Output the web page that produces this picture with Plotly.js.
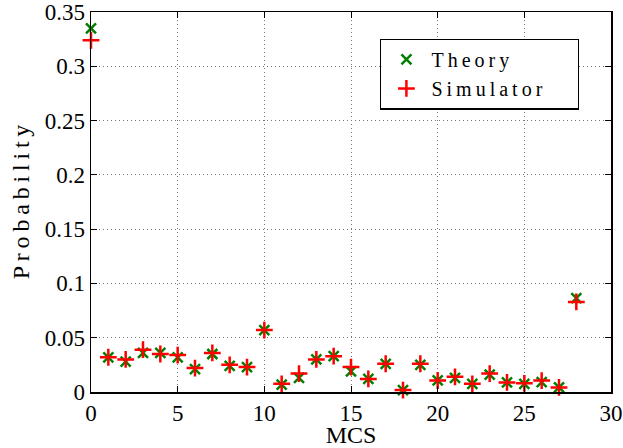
<!DOCTYPE html>
<html><head><meta charset="utf-8">
<script src="https://cdn.plot.ly/plotly-3.0.1.min.js"></script>
<style>html,body{margin:0;padding:0;background:#fff}</style>
</head><body>
<div id="chart" style="width:623px;height:448px"></div>
<script>
const mcs = [0,1,2,3,4,5,6,7,8,9,10,11,12,13,14,15,16,17,18,19,20,21,22,23,24,25,26,27,28];
const theory = [0.335,0.032,0.028,0.036,0.036,0.032,0.021,0.035,0.024,0.023,0.057,0.0067,0.013,0.030,0.033,0.019,0.012,0.026,0.0018,0.025,0.0106,0.013,0.0075,0.016,0.0088,0.0075,0.009,0.0042,0.0865];
const simulator = [0.324,0.032,0.030,0.039,0.035,0.034,0.022,0.036,0.025,0.023,0.057,0.0075,0.017,0.030,0.033,0.023,0.012,0.026,0.0018,0.026,0.0106,0.014,0.0075,0.017,0.0088,0.008,0.0105,0.0042,0.083];
const xTicks = [0,5,10,15,20,25,30];
const yTicks = [0,0.05,0.1,0.15,0.2,0.25,0.3,0.35];
const yTickText = ['0','0.05','0.1','0.15','0.2','0.25','0.3','0.35'];

const sp = s => s.split('').join('\u2009');
const pad = '\u00a0\u00a0\u00a0\u00a0\u00a0\u00a0';
const FAM = 'Liberation Serif';
const traces = [
  {x: mcs, y: theory, name: sp('Theory') + pad, type: 'scatter', mode: 'markers', cliponaxis: false,
   marker: {symbol: 'x-thin', size: 10, color: '#008000', line: {color: '#008000', width: 2.5}}},
  {x: mcs, y: simulator, name: sp('Simulator') + pad, type: 'scatter', mode: 'markers', cliponaxis: false,
   marker: {symbol: 'cross-thin', size: 12, color: '#ff0000', line: {color: '#ff0000', width: 2.5}}}
];
const axisBase = {
  tickmode: 'array', ticklabeloverflow: 'allow',
  tickfont: {family: FAM, size: 23, color: '#000'},
  showline: true, linecolor: '#000', linewidth: 1.5, mirror: 'ticks',
  ticks: 'inside', ticklen: 6, tickcolor: '#000', tickwidth: 1,
  showgrid: true, gridcolor: '#777', griddash: '1px,3px', gridwidth: 1, zeroline: false
};
const layout = {
  width: 623, height: 448,
  margin: {l: 91, r: 12, t: 12, b: 56},
  paper_bgcolor: '#fff', plot_bgcolor: '#fff',
  font: {family: FAM, size: 22, color: '#000'},
  xaxis: Object.assign({}, axisBase, {
    range: [0, 30], tickvals: xTicks, ticktext: xTicks.map(String),
    title: {text: 'MCS', font: {family: FAM, size: 24}, standoff: 9}
  }),
  yaxis: Object.assign({}, axisBase, {
    range: [0, 0.35000001], tickvals: yTicks, ticktext: yTickText,
    title: {text: sp('Probability'), font: {family: FAM, size: 24}, standoff: 8}
  }),
  showlegend: true,
  legend: {x: 0.556, y: 0.93, xanchor: 'left', yanchor: 'top', bgcolor: '#fff',
    bordercolor: '#000', borderwidth: 1.3, font: {family: FAM, size: 20},
    itemwidth: 40}
};
Plotly.newPlot('chart', traces, layout, {displayModeBar: false, staticPlot: true});
</script>
</body></html>
